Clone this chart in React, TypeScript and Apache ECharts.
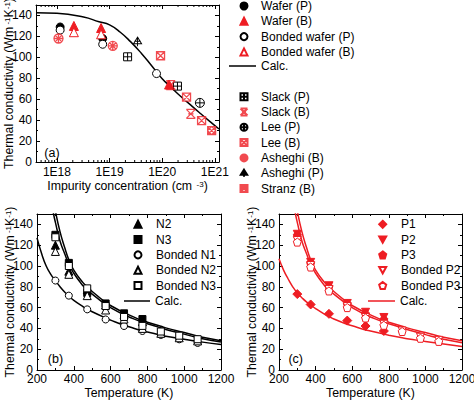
import React, { useEffect, useRef } from 'react';
import * as echarts from 'echarts';

const FONT = '"Liberation Sans", Arial, sans-serif';
const RED = '#ee1d23';
const BLACK = '#000000';

// ---------- Panel (a): impurity concentration (cm^-3) vs thermal conductivity ----------
const waferP = [[1.15e18, 129], [7.4e18, 118]];
const waferB = [[2.1e18, 130], [6.9e18, 128], [1.35e20, 74]];
const bondedWaferP = [[1.15e18, 126], [7.4e18, 112.5], [7.8e19, 84.5]];
const bondedWaferB = [[2.1e18, 124], [6.9e18, 122]];
const calcA = [
  [4e17, 142.5], [1e18, 142], [3.2e18, 138.5], [6.3e18, 134], [1e19, 131], [1.6e19, 124],
  [2.5e19, 115], [4e19, 104], [6.3e19, 92], [1e20, 79.5], [1.4e20, 72.5], [2e20, 65],
  [3.2e20, 56], [5e20, 47.5], [7.9e20, 39], [1.2e21, 31.5],
];
const slackP = [[2.2e19, 100.5], [1.95e20, 72.5]];
const slackB = [[1.45e20, 73.5], [3.5e20, 46]];
const leeP = [[5.2e20, 56.5]];
const leeB = [[9.3e19, 101.5], [2.9e20, 62], [5.6e20, 39.5]];
const asheghiB = [[1.07e18, 118], [1.15e19, 111]];
const asheghiP = [[3.4e19, 115]];
const stranzB = [[8.7e20, 30]];

// ---------- Panel (b): temperature (K) vs thermal conductivity, N-type ----------
const tempB = [300, 373, 473, 573, 673, 773, 873, 973, 1073];
const n2 = [120, 95, 77, 62.5, 53, 46.5];
const n3 = [130, 103, 74, 64, 54.5, 49];
const bondedN1 = [86, 71.5, 58.3, 48.6, 42.3, 37.5, 33.7, 29.5, 26];
const bondedN2 = [114, 92, 71.5, 57.7, 49, 40, 35.3, 31, 28];
const bondedN3 = [127.6, 100, 78.5, 61.5, 51, 42.4, 37, 33, 29.6];
const calcBUpper = [
  [292, 162], [300, 153], [325, 133], [350, 118], [373, 106], [400, 96], [450, 84], [473, 80],
  [500, 75.5], [573, 65], [600, 62], [673, 55], [700, 53], [773, 47.5], [800, 46], [873, 42],
  [900, 40.5], [1000, 36], [1100, 31.5], [1200, 28.2],
];
const calcBMiddle = [
  [278, 162], [290, 150], [300, 142], [325, 124], [350, 112], [373, 102], [400, 93], [450, 81],
  [473, 77], [500, 73], [573, 63], [600, 60], [673, 53], [700, 51], [773, 46], [800, 44.5],
  [873, 40.5], [900, 39], [1000, 34.5], [1100, 30], [1200, 26.9],
];
const calcBLower = [
  [200, 127], [225, 112], [250, 100], [275, 92], [300, 86], [325, 80], [350, 75], [373, 71],
  [400, 67], [450, 61], [473, 58.5], [500, 56], [573, 50], [600, 48], [673, 43], [700, 41.5],
  [773, 37.5], [800, 36.5], [873, 33.5], [900, 32.5], [1000, 29.5], [1100, 26.8], [1200, 24.5],
];

// ---------- Panel (c): temperature (K) vs thermal conductivity, P-type ----------
const tempC = [300, 373, 473, 573, 673, 773, 873, 973, 1073];
const p1 = [73, 63, 54, 47.5, 42.3, 37.5];
const p2 = [130.5, 103.5, 81, 64, 55.5, 50.5];
const p3 = [129.5, 102.5, 80, 63.5, 54, 48.5];
const bondedP2 = [124.5, 100.5, 77.5, 61, 50.5, 44, 37.5, 31.5, 28.5];
const bondedP3 = [123, 99, 76, 60, 50, 43, 37, 30.5, 27.5];
const calcCUpper = [
  [292, 162], [300, 153], [325, 133], [350, 118], [373, 106], [400, 96], [450, 84], [473, 80],
  [500, 75.5], [573, 65], [600, 62], [673, 55], [700, 53], [773, 47.5], [800, 46], [873, 42],
  [900, 40.5], [1000, 36], [1100, 31.5], [1200, 28.2],
];
const calcCMiddle = [
  [280, 160], [290, 150], [300, 142], [325, 124], [350, 112], [373, 102], [400, 93], [450, 81],
  [473, 77], [500, 73], [573, 63], [600, 60], [673, 53], [700, 51], [773, 46], [800, 44.5],
  [873, 40.5], [900, 39], [1000, 34], [1100, 29.5], [1200, 26.3],
];
const calcCLower = [
  [200, 107], [225, 96], [250, 87.5], [275, 80], [300, 74], [325, 69.5], [350, 65.5], [373, 62.5],
  [400, 59], [450, 53.5], [473, 51.5], [500, 49], [573, 44], [600, 42.5], [673, 38.5], [700, 37.5],
  [773, 34.5], [800, 33.5], [873, 31], [900, 30], [1000, 27.5], [1100, 25], [1200, 22.5],
];

const yTicksMax = 150;

const SYM = {
  plusSquare: 'path://M0,0L10,0L10,10L0,10Z M5,0L5,10 M0,5L10,5',
  hourglass: 'path://M0,0L10,0 M0,10L10,10 M0,0L10,10 M10,0L0,10 M2,5L8,5',
  xSquare: 'path://M0,0L10,0L10,10L0,10Z M0,0L10,10 M10,0L0,10',
  hatchSquare: 'path://M0,0L10,0L10,10L0,10Z M0,5L5,0 M0,10L10,0 M5,10L10,5 M5,0L10,5 M0,0L10,10 M0,5L5,10',
  hatchCircle: 'path://M5,0A5,5,0,1,1,5,10A5,5,0,1,1,5,0Z M1.5,1.5L8.5,8.5 M8.5,1.5L1.5,8.5 M5,0L5,10 M0,5L10,5',
  plusCircle: 'path://M5,0A5,5,0,1,1,5,10A5,5,0,1,1,5,0Z M5,0L5,10 M0,5L10,5',
  plusTriangle: 'path://M5,0L10,8L0,8Z M5,0L5,11 M1,5L9,5',
  pentagon: 'path://M5,0L10,3.8L8.1,10L1.9,10L0,3.8Z',
  downTriangle: 'path://M0,0L10,0L5,9Z',
};

function zip(xs: number[], ys: number[]) {
  return ys.map((y, i) => [xs[i], y]);
}

export default function App() {
  const ref = useRef<HTMLDivElement>(null);

  useEffect(() => {
    const chart = echarts.init(ref.current!, null, { renderer: 'svg' });

    const axisLine = { show: true, onZero: false, lineStyle: { color: BLACK, width: 1 } };
    const tick = { show: true, inside: true, length: 4, lineStyle: { color: BLACK, width: 1 } };
    const minor = { show: true, splitNumber: 2, length: 2, lineStyle: { color: BLACK, width: 1 } };
    const lbl = { color: BLACK, fontFamily: FONT, fontSize: 12 };
    const nameStyle = {
      color: BLACK,
      fontFamily: FONT,
      fontSize: 12.3,
      rich: {
        n: { color: BLACK, fontFamily: FONT, fontSize: 12.3 },
        s: { color: BLACK, fontFamily: FONT, fontSize: 8, verticalAlign: 'top' },
      },
    };
    const yName = '{n|Thermal conductivity (Wm}{s| -1}{n|K}{s|-1}{n|)}';

    const logMin = 4e17;
    const logMax = 1.2e21;
    const minorLog: number[][] = [];
    for (let e = 17; e <= 20; e++) {
      for (let k = 2; k <= 9; k++) {
        const v = k * Math.pow(10, e);
        if (v > logMin && v < logMax) minorLog.push([v, 0]);
      }
    }

    const logFmt = (v: number) => {
      const e = Math.log10(v);
      return Math.abs(e - Math.round(e)) < 1e-6 ? '1E' + Math.round(e) : '';
    };

    const xLog = (top: boolean) => ({
      type: 'log',
      logBase: 10,
      gridIndex: 0,
      position: top ? 'top' : 'bottom',
      min: logMin,
      max: logMax,
      axisLine,
      axisTick: { ...tick, interval: 0 },
      axisLabel: top
        ? { show: false }
        : { ...lbl, margin: 4, interval: 0, showMinLabel: false, showMaxLabel: false, formatter: logFmt },
      splitLine: { show: false },
      ...(top
        ? {}
        : {
            name: '{n|Impurity concentration (cm}{s|  -3}{n|)}',
            nameLocation: 'middle',
            nameGap: 18,
            nameMoveOverlap: false,
            nameTextStyle: nameStyle,
          }),
    });

    const xTemp = (grid: number, top: boolean) => ({
      type: 'value',
      gridIndex: grid,
      position: top ? 'top' : 'bottom',
      min: 200,
      max: 1200,
      interval: 200,
      axisLine,
      axisTick: tick,
      minorTick: minor,
      axisLabel: top ? { show: false } : { ...lbl, margin: 3, formatter: (v: number) => String(v) },
      splitLine: { show: false },
      minorSplitLine: { show: false },
      ...(top
        ? {}
        : {
            name: 'Temperature (K)',
            nameLocation: 'middle',
            nameGap: 17,
            nameMoveOverlap: false,
            nameTextStyle: nameStyle,
          }),
    });

    const yK = (grid: number, right: boolean) => ({
      type: 'value',
      gridIndex: grid,
      position: right ? 'right' : 'left',
      min: 0,
      max: yTicksMax,
      interval: 20,
      axisLine,
      axisTick: tick,
      minorTick: minor,
      axisLabel: right ? { show: false } : { ...lbl, margin: 4, showMaxLabel: false },
      splitLine: { show: false },
      minorSplitLine: { show: false },
      ...(right
        ? {}
        : {
            name: yName,
            nameLocation: 'middle',
            nameGap: 21,
            nameRotate: 90,
            nameMoveOverlap: false,
            nameTextStyle: nameStyle,
          }),
    });

    const scatter = (
      name: string,
      data: number[][],
      axis: number,
      symbol: string,
      size: number | number[],
      fill: string,
      stroke: string,
      extra: any = {}
    ) => ({
      type: 'scatter',
      name,
      data,
      xAxisIndex: axis,
      yAxisIndex: axis,
      symbol,
      symbolSize: size,
      itemStyle: { color: fill, borderColor: stroke, borderWidth: 1, opacity: 1 },
      z: 3,
      ...extra,
    });

    const line = (name: string, data: number[][], axis: number, color: string) => ({
      type: 'line',
      name,
      data,
      xAxisIndex: axis,
      yAxisIndex: axis,
      symbol: 'none',
      smooth: true,
      clip: true,
      lineStyle: { color, width: 1.5 },
      itemStyle: { color },
      z: 2,
    });

    const fmt = (n: string) => n.replace(/ \[[abc]\]$/, '');
    const symLegend = (left: number, top: number, pad: number, data: any[]) => ({
      orient: 'vertical',
      left,
      top,
      padding: 0,
      itemGap: 3.3,
      itemWidth: 7,
      itemHeight: 7,
      selectedMode: false,
      textStyle: { color: BLACK, fontFamily: FONT, fontSize: 12, padding: [0, 0, 0, pad] },
      formatter: fmt,
      data,
    });
    const calcLegend = (left: number, top: number, width: number, name: string) => ({
      orient: 'vertical',
      left,
      top,
      padding: 0,
      itemWidth: width,
      itemHeight: 1.5,
      selectedMode: false,
      textStyle: { color: BLACK, fontFamily: FONT, fontSize: 12 },
      formatter: fmt,
      data: [{ name, icon: 'rect' }],
    });

    const option: any = {
      animation: false,
      backgroundColor: '#ffffff',
      grid: [
        { left: 36, top: 5, width: 183, height: 157, containLabel: false, outerBoundsMode: 'none' },
        { left: 37, top: 214, width: 184, height: 156, containLabel: false, outerBoundsMode: 'none' },
        { left: 279, top: 214, width: 183, height: 156, containLabel: false, outerBoundsMode: 'none' },
      ],
      xAxis: [xLog(false), xLog(true), xTemp(1, false), xTemp(1, true), xTemp(2, false), xTemp(2, true)],
      yAxis: [yK(0, false), yK(0, true), yK(1, false), yK(1, true), yK(2, false), yK(2, true)],
      legend: [
        symLegend(239.5, 0, 8.5, ['Wafer (P)', 'Wafer (B)', 'Bonded wafer (P)', 'Bonded wafer (B)']),
        calcLegend(229, 60, 27, 'Calc. [a]'),
        symLegend(239.5, 90.7, 8.5, ['Slack (P)', 'Slack (B)', 'Lee (P)', 'Lee (B)', 'Asheghi (B)', 'Asheghi (P)', 'Stranz (B)']),
        symLegend(133.5, 218.3, 9.5, ['N2', 'N3', 'Bonded N1', 'Bonded N2', 'Bonded N3']),
        calcLegend(124, 295, 26, 'Calc. [b]'),
        symLegend(378.2, 218.3, 9.8, [
          'P1',
          { name: 'P2', icon: SYM.downTriangle },
          'P3',
          { name: 'Bonded P2', icon: SYM.downTriangle },
          'Bonded P3',
        ]),
        calcLegend(368, 295, 27, 'Calc. [c]'),
      ],
      series: [
        // panel (a)
        line('Calc. [a]', calcA, 0, BLACK),
        {
          type: 'custom',
          name: 'minor-log',
          xAxisIndex: 0,
          yAxisIndex: 0,
          data: minorLog,
          silent: true,
          z: 1,
          renderItem: (params: any, api: any) => {
            const p = api.coord([api.value(0), 0]);
            const cs = params.coordSys;
            const x = p[0];
            const st = { stroke: BLACK, lineWidth: 1 };
            return {
              type: 'group',
              children: [
                { type: 'line', shape: { x1: x, y1: cs.y + cs.height, x2: x, y2: cs.y + cs.height - 2 }, style: st },
                { type: 'line', shape: { x1: x, y1: cs.y, x2: x, y2: cs.y + 2 }, style: st },
              ],
            };
          },
        },
        scatter('Wafer (P)', waferP, 0, 'circle', 8, BLACK, BLACK),
        scatter('Wafer (B)', waferB, 0, 'triangle', 9, RED, RED),
        scatter('Bonded wafer (P)', bondedWaferP, 0, 'circle', 8, '#fff', BLACK),
        scatter('Bonded wafer (B)', bondedWaferB, 0, 'triangle', 9, '#fff', RED),
        scatter('Slack (P)', slackP, 0, SYM.plusSquare, 8, '#fff', BLACK),
        scatter('Slack (B)', slackB, 0, SYM.hourglass, 9, '#fff', RED, { itemStyle: { color: '#fff', borderColor: RED, borderWidth: 1.3 } }),
        scatter('Lee (P)', leeP, 0, SYM.plusCircle, 9, '#fff', BLACK),
        scatter('Lee (B)', leeB, 0, SYM.xSquare, 8, '#fff', RED, { itemStyle: { color: '#fff', borderColor: RED, borderWidth: 1.3 } }),
        scatter('Asheghi (B)', asheghiB, 0, SYM.hatchCircle, 9, '#fff', RED, { itemStyle: { color: '#fff', borderColor: RED, borderWidth: 1.3 } }),
        scatter('Asheghi (P)', asheghiP, 0, SYM.plusTriangle, [8, 9], '#fff', BLACK),
        scatter('Stranz (B)', stranzB, 0, SYM.hatchSquare, 8, '#fff', RED, { itemStyle: { color: '#fff', borderColor: RED, borderWidth: 1.2 } }),

        // panel (b)
        line('Calc. [b]', calcBUpper, 2, BLACK),
        line('Calc. [b]', calcBMiddle, 2, BLACK),
        line('Calc. [b]', calcBLower, 2, BLACK),
        scatter('N2', zip(tempB, n2), 2, 'triangle', 8, BLACK, BLACK),
        scatter('N3', zip(tempB, n3), 2, 'rect', 7, BLACK, BLACK),
        scatter('Bonded N1', zip(tempB, bondedN1), 2, 'circle', 7, '#fff', BLACK),
        scatter('Bonded N2', zip(tempB, bondedN2), 2, 'triangle', 8, '#fff', BLACK),
        scatter('Bonded N3', zip(tempB, bondedN3), 2, 'rect', 7, '#fff', BLACK),

        // panel (c)
        line('Calc. [c]', calcCUpper, 4, RED),
        line('Calc. [c]', calcCMiddle, 4, RED),
        line('Calc. [c]', calcCLower, 4, RED),
        scatter('P1', zip(tempC, p1), 4, 'diamond', 9, RED, RED),
        scatter('P2', zip(tempC, p2), 4, 'triangle', 8, RED, RED, { symbolRotate: 180 }),
        scatter('P3', zip(tempC, p3), 4, SYM.pentagon, 8, RED, RED),
        scatter('Bonded P2', zip(tempC, bondedP2), 4, 'triangle', 8, '#fff', RED, { symbolRotate: 180 }),
        scatter('Bonded P3', zip(tempC, bondedP3), 4, SYM.pentagon, 8, '#fff', RED),
      ],
      graphic: [
        { type: 'text', x: 52, y: 152.5, style: { text: '(a)', fill: BLACK, font: '12.5px "Liberation Sans", Arial', align: 'center', verticalAlign: 'middle' } },
        { type: 'text', x: 55.5, y: 359, style: { text: '(b)', fill: BLACK, font: '12.5px "Liberation Sans", Arial', align: 'center', verticalAlign: 'middle' } },
        { type: 'text', x: 295.7, y: 359, style: { text: '(c)', fill: BLACK, font: '12.5px "Liberation Sans", Arial', align: 'center', verticalAlign: 'middle' } },
      ],
    };

    chart.setOption(option);
    return () => chart.dispose();
  }, []);

  return (
    <div
      ref={ref}
      style={{ position: 'fixed', left: 0, top: 0, width: 474, height: 401, background: '#fff' }}
    />
  );
}
